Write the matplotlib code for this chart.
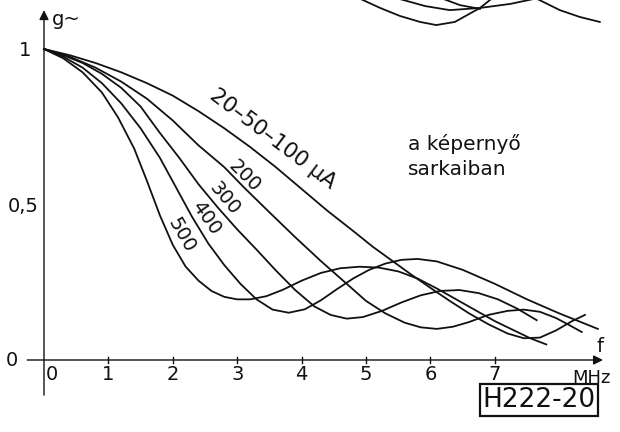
import matplotlib
matplotlib.use("Agg")
import matplotlib.pyplot as plt
from matplotlib import font_manager

# frequency f (MHz) and relative modulation g~
f_100 = [0, 0.4, 0.8, 1.2, 1.6, 2.0, 2.4, 2.8, 3.2, 3.6, 4.0, 4.4, 4.8, 5.1, 5.4, 5.7, 6.0, 6.3, 6.6, 6.9, 7.2, 7.45, 7.7, 7.95, 8.2, 8.4]
g_100 = [1, 0.98, 0.955, 0.925, 0.89, 0.85, 0.80, 0.745, 0.685, 0.62, 0.55, 0.48, 0.415, 0.365, 0.32, 0.275, 0.232, 0.19, 0.15, 0.115, 0.085, 0.07, 0.072, 0.095, 0.125, 0.145]

f_200 = [0, 0.4, 0.8, 1.2, 1.6, 2.0, 2.4, 2.8, 3.1, 3.5, 3.9, 4.3, 4.7, 5.0, 5.3, 5.6, 5.85, 6.1, 6.35, 6.6, 6.9, 7.2, 7.45, 7.7, 7.95, 8.15, 8.35]
g_200 = [1, 0.975, 0.94, 0.895, 0.84, 0.77, 0.69, 0.62, 0.556, 0.475, 0.395, 0.318, 0.245, 0.19, 0.15, 0.12, 0.105, 0.1, 0.107, 0.122, 0.145, 0.158, 0.162, 0.155, 0.135, 0.113, 0.09]

f_300 = [0, 0.3, 0.6, 0.9, 1.2, 1.5, 1.8, 2.1, 2.4, 2.7, 3.0, 3.3, 3.6, 3.9, 4.2, 4.45, 4.7, 4.95, 5.25, 5.55, 5.85, 6.15, 6.45, 6.75, 7.05, 7.35, 7.65]
g_300 = [1, 0.98, 0.955, 0.92, 0.875, 0.815, 0.73, 0.65, 0.565, 0.49, 0.42, 0.355, 0.288, 0.225, 0.172, 0.145, 0.133, 0.138, 0.158, 0.185, 0.208, 0.222, 0.225, 0.215, 0.195, 0.165, 0.128]

f_400 = [0, 0.3, 0.6, 0.9, 1.2, 1.5, 1.8, 2.05, 2.3, 2.55, 2.8, 3.05, 3.3, 3.55, 3.8, 4.05, 4.3, 4.55, 4.8, 5.05, 5.3, 5.55, 5.8, 6.1, 6.5, 7.0, 7.5, 8.0, 8.6]
g_400 = [1, 0.975, 0.94, 0.89, 0.825, 0.745, 0.65, 0.555, 0.46, 0.375, 0.305, 0.245, 0.195, 0.162, 0.152, 0.163, 0.192, 0.228, 0.262, 0.29, 0.31, 0.322, 0.325, 0.317, 0.29, 0.245, 0.195, 0.15, 0.1]

f_500 = [0, 0.3, 0.6, 0.9, 1.15, 1.4, 1.6, 1.8, 2.0, 2.2, 2.4, 2.6, 2.8, 3.0, 3.2, 3.45, 3.7, 4.0, 4.3, 4.6, 4.9, 5.2, 5.5, 5.8, 6.1, 6.4, 6.7, 7.0, 7.3, 7.55, 7.8]
g_500 = [1, 0.97, 0.925, 0.86, 0.78, 0.68, 0.575, 0.465, 0.37, 0.3, 0.255, 0.222, 0.203, 0.195, 0.195, 0.205, 0.225, 0.255, 0.28, 0.295, 0.3, 0.297, 0.285, 0.262, 0.23, 0.195, 0.16, 0.125, 0.095, 0.07, 0.05]

# cut-off curves of the panel above
top_f = [
    [4.82, 5.22, 5.53, 5.84, 6.09, 6.38, 6.57, 6.77, 7.0],
    [5.45, 5.92, 6.3, 6.77, 7.24, 7.7],
    [6.15, 6.46, 6.77],
    [7.62, 8.01, 8.32, 8.63],
]
top_g = [
    [1.17, 1.132, 1.106, 1.087, 1.077, 1.087, 1.109, 1.132, 1.17],
    [1.165, 1.138, 1.125, 1.132, 1.145, 1.165],
    [1.165, 1.141, 1.129],
    [1.165, 1.125, 1.103, 1.087],
]

x_ticks = [1, 2, 3, 4, 5, 6, 7]
x_labels = ["0", "1", "2", "3", "4", "5", "6", "7"]

# pixel geometry of the original drawing
X0, PXM = 44, 64.4     # origin x, pixels per MHz
Y0, PXU = 360, 311     # origin y, pixels per unit of g

ink = "#111111"
lbl_font = ["DejaVu Sans"]

# a narrow face for the figure number, if one is around
names = {f.name for f in font_manager.fontManager.ttflist}
if "Liberation Sans Narrow" in names:
    code_kw = dict(family=["Liberation Sans Narrow", "DejaVu Sans"], fontsize=24)
else:
    code_kw = dict(family=["DejaVu Sans"], fontsize=19)

fig = plt.figure(figsize=(6.2, 4.32), dpi=100)
ax = fig.add_axes([0, 0, 1, 1])
ax.set_xlim(-X0 / PXM, (620 - X0) / PXM)
ax.set_ylim((Y0 - 432) / PXU, Y0 / PXU)
ax.axis("off")

for fx, gy in [(f_100, g_100), (f_200, g_200), (f_300, g_300), (f_400, g_400), (f_500, g_500)]:
    ax.plot(fx, gy, color=ink, lw=1.3, solid_joinstyle="round")
for fx, gy in zip(top_f, top_g):
    ax.plot(fx, gy, color=ink, lw=1.3, solid_joinstyle="round")

# axes with arrow heads
arr = dict(arrowstyle="-|>", color=ink, lw=1.0, mutation_scale=14, shrinkA=0, shrinkB=0)
ax.annotate("", xy=(8.68, 0), xytext=(-0.26, 0), arrowprops=arr)
ax.annotate("", xy=(0, 1.125), xytext=(0, -0.113), arrowprops=arr)
for t in x_ticks:
    ax.plot([t, t], [-0.01, 0.01], color=ink, lw=1.0)

fs = 14
for i, lab in enumerate(x_labels):
    x = 0.12 if i == 0 else i
    ax.text(x, -0.048, lab, ha="center", va="center", fontsize=fs, family=lbl_font, color=ink)
ax.text(-0.5, 0.0, "0", ha="center", va="center", fontsize=fs, family=lbl_font, color=ink)
ax.text(-0.3, 0.994, "1", ha="center", va="center", fontsize=fs, family=lbl_font, color=ink)
ax.text(-0.33, 0.495, "0,5", ha="center", va="center", fontsize=fs, family=lbl_font, color=ink)
ax.text(0.34, 1.095, "g~", ha="center", va="center", fontsize=fs, family=lbl_font, color=ink)
ax.text(8.63, 0.045, "f", ha="center", va="center", fontsize=fs, family=lbl_font, color=ink)
ax.text(8.5, -0.058, "MHz", ha="center", va="center", fontsize=13, family=lbl_font, color=ink)

# curve labels
rl = dict(ha="center", va="center", family=lbl_font, color=ink, rotation_mode="anchor")
ax.text(3.55, 0.71, "20–50–100 µA", rotation=-37, fontsize=15.5, **rl)
ax.text(3.12, 0.59, "200", rotation=-45, fontsize=14, **rl)
ax.text(2.8, 0.518, "300", rotation=-50, fontsize=14, **rl)
ax.text(2.52, 0.457, "400", rotation=-55, fontsize=14, **rl)
ax.text(2.14, 0.40, "500", rotation=-60, fontsize=14, **rl)

ax.text(5.65, 0.655, "a képernyő\nsarkaiban", ha="left", va="center", fontsize=14.5,
        family=lbl_font, color=ink, linespacing=1.4)

ax.text(7.69, -0.129, "H222-20", ha="center", va="center", color=ink,
        bbox=dict(boxstyle="square,pad=0.1", fc="white", ec=ink, lw=1.6), **code_kw)

fig.savefig("out.png", dpi=100)
